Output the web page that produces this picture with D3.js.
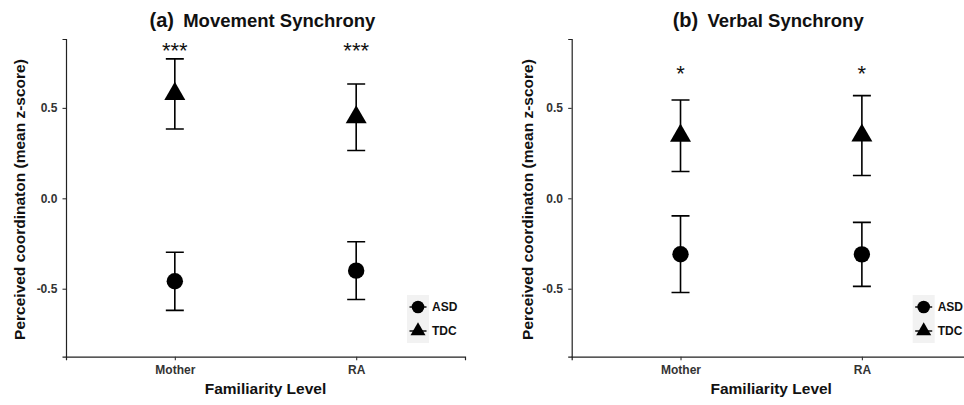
<!DOCTYPE html>
<html>
<head>
<meta charset="utf-8">
<script src="https://cdn.jsdelivr.net/npm/d3@7"></script>
<style>
	body { margin: 0; background: #fff; }
	svg { display: block; font-family: 'Liberation Sans', Arial, sans-serif; }
</style>
</head>
<body>
<div id="graph"></div>
<script>

// categories
const familiarity = ['Mother', 'RA']
const groups = ['ASD', 'TDC']
const yTicks = [-0.5, 0, 0.5]

// movement synchrony (mean z-score, standard error)
const movementASD = [-0.459, -0.400]
const movementASDse = [0.161, 0.160]
const movementTDC = [0.577, 0.448]
const movementTDCse = [0.194, 0.184]
const movementSig = ['***', '***']
const movementSigY = [0.848, 0.848]

// verbal synchrony
const verbalASD = [-0.309, -0.310]
const verbalASDse = [0.212, 0.177]
const verbalTDC = [0.346, 0.347]
const verbalTDCse = [0.198, 0.221]
const verbalSig = ['*', '*']
const verbalSigY = [0.719, 0.719]

/**
* one panel of the figure
*
* @constructor
*
*/
function SyncPanel() {

	let self = this
		, width = 399
		, top = 39
		, bottom = 356.7
		, whisker = 9
		, x = d3.scalePoint()
			.domain(familiarity)
			.range([0, width])
			.padding(0.6)
		, y = d3.scaleLinear()
			.domain([-0.876, 0.881])
			.range([bottom, top])

	/**
	 * triangle with its centroid at 0,0 (like R pch 17)
	 *
	 * @private
	 */
	function triangle(side) {
		var h = side * Math.sqrt(3) / 2
		return 'M0,' + (-2 * h / 3) + 'L' + (side / 2) + ',' + (h / 3) + 'L' + (-side / 2) + ',' + (h / 3) + 'Z'
	}

	function rows(means, ses, group) {
		return familiarity.map(function(f, i) {
			return { key: f, group: group, mean: means[i], se: ses[i] }
		})
	}

	/**
	 * draw panel
	 *
	 */
	this.draw = function (svg, opts) {

		let g = svg.append('g')
			.attr('transform', 'translate(' + opts.left + ',0)')

		let data = rows(opts.asd, opts.asdSe, 'ASD').concat(rows(opts.tdc, opts.tdcSe, 'TDC'))

		// title
		g.append('text')
			.attr('x', width / 2 - 3)
			.attr('y', 27)
			.attr('text-anchor', 'middle')
			.attr('font-weight', 'bold')
			.attr('fill', '#111')
			.call(function(t) {
				t.append('tspan').attr('font-size', 20).text(opts.tag)
				t.append('tspan').attr('font-size', 18.5).attr('dx', 4).text(' ' + opts.title)
			})

		// axes
		let yAxis = g.append('g')
			.call(d3.axisLeft(y)
				.tickValues(yTicks)
				.tickSizeOuter(0)
				.tickSize(3.5)
				.tickPadding(5.2)
				.tickFormat(function(d) { return d.toFixed(1) }))

		let xAxis = g.append('g')
			.attr('transform', 'translate(0,' + bottom + ')')
			.call(d3.axisBottom(x)
				.tickSizeOuter(0)
				.tickSize(3.5)
				.tickPadding(5))

		;[yAxis, xAxis].forEach(function(a) {
			a.select('.domain').attr('stroke', '#222').attr('stroke-width', 1.2)
			a.selectAll('.tick line').attr('stroke', '#333').attr('stroke-width', 1.1)
			a.selectAll('.tick text')
				.attr('fill', '#333')
				.attr('font-size', 12)
				.attr('font-weight', 'bold')
				.attr('font-family', 'Liberation Sans, Arial, sans-serif')
		})
		xAxis.selectAll('.tick text').attr('dy', 0).attr('y', 17.3)
		yAxis.selectAll('.tick text').attr('dy', '0.34em')

		// axis titles
		g.append('text')
			.attr('x', width / 2)
			.attr('y', 393.5)
			.attr('text-anchor', 'middle')
			.attr('font-size', 15.5)
			.attr('font-weight', 'bold')
			.attr('fill', '#111')
			.text('Familiarity Level')

		g.append('text')
			.attr('transform', 'translate(' + opts.yTitleX + ',' + 199.5 + ') rotate(-90)')
			.attr('text-anchor', 'middle')
			.attr('dy', '0.35em')
			.attr('font-size', 15.5)
			.attr('font-weight', 'bold')
			.attr('fill', '#111')
			.text('Perceived coordinaton (mean z-score)')

		// error bars
		let bars = g.append('g')
			.attr('stroke', '#000')
			.attr('stroke-width', 1.6)
			.attr('fill', 'none')
			.selectAll('path')
			.data(data)
			.join('path')
			.attr('d', function(d) {
				var cx = x(d.key)
					, y0 = y(d.mean + d.se)
					, y1 = y(d.mean - d.se)
				return 'M' + (cx - whisker) + ',' + y0 + 'H' + (cx + whisker)
					+ 'M' + cx + ',' + y0 + 'V' + y1
					+ 'M' + (cx - whisker) + ',' + y1 + 'H' + (cx + whisker)
			})

		// points
		g.append('g')
			.selectAll('path')
			.data(data)
			.join('path')
			.attr('transform', function(d) { return 'translate(' + x(d.key) + ',' + y(d.mean) + ')' })
			.attr('d', function(d) { return d.group === 'ASD' ? d3.arc()({innerRadius: 0, outerRadius: 8.2, startAngle: 0, endAngle: 2 * Math.PI}) : triangle(21) })
			.attr('fill', '#000')

		// significance stars
		g.append('g')
			.selectAll('text')
			.data(familiarity)
			.join('text')
			.attr('x', function(d) { return x(d) })
			.attr('y', function(d, i) { return y(opts.sigY[i]) })
			.attr('dy', '0.57em')
			.attr('text-anchor', 'middle')
			.attr('font-size', 22)
			.attr('fill', '#111')
			.text(function(d, i) { return opts.sig[i] })

		// legend, inside the panel
		let legend = g.append('g')
			.attr('transform', 'translate(341,295)')

		let key = legend.selectAll('g')
			.data(groups)
			.join('g')
			.attr('transform', function(d, i) { return 'translate(0,' + (i * 24) + ')' })

		key.append('rect')
			.attr('width', 22)
			.attr('height', 24)
			.attr('fill', '#f2f2f2')

		key.append('line')
			.attr('x1', 2.5)
			.attr('x2', 19.5)
			.attr('y1', 12)
			.attr('y2', 12)
			.attr('stroke', '#000')
			.attr('stroke-width', 1.4)

		key.append('path')
			.attr('transform', 'translate(11,12)')
			.attr('d', function(d) { return d === 'ASD' ? d3.arc()({innerRadius: 0, outerRadius: 6.3, startAngle: 0, endAngle: 2 * Math.PI}) : triangle(15) })
			.attr('fill', '#000')

		key.append('text')
			.attr('x', 25)
			.attr('y', 12)
			.attr('dy', '0.36em')
			.attr('font-size', 12)
			.attr('font-weight', 'bold')
			.attr('fill', '#111')
			.text(function(d) { return d })
	}
}

let svg = d3.select('#graph')
	.append('svg')
	.attr('width', 964)
	.attr('height', 405)

new SyncPanel().draw(svg, {
	left: 66
	, tag: '(a)'
	, title: 'Movement Synchrony'
	, yTitleX: -46
	, asd: movementASD
	, asdSe: movementASDse
	, tdc: movementTDC
	, tdcSe: movementTDCse
	, sig: movementSig
	, sigY: movementSigY
})

new SyncPanel().draw(svg, {
	left: 571.7
	, tag: '(b)'
	, title: 'Verbal Synchrony'
	, yTitleX: -43.7
	, asd: verbalASD
	, asdSe: verbalASDse
	, tdc: verbalTDC
	, tdcSe: verbalTDCse
	, sig: verbalSig
	, sigY: verbalSigY
})

</script>
</body>
</html>
